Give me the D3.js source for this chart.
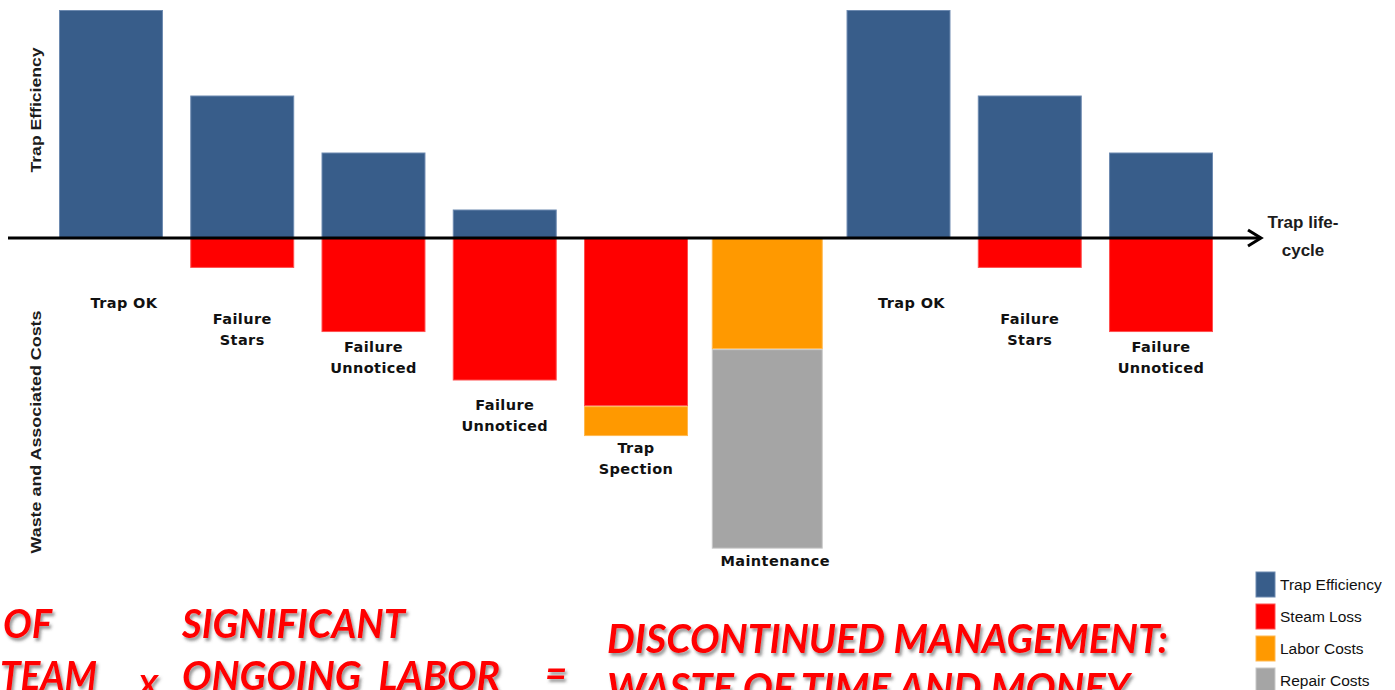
<!DOCTYPE html>
<html>
<head>
<meta charset="utf-8">
<script src="https://cdn.jsdelivr.net/npm/d3@7"></script>
<style>
  html, body { margin: 0; padding: 0; background: #fff; overflow: hidden; }
  svg { display: block; }
</style>
</head>
<body>
<svg id="chart"></svg>
<script>
const width = 1395;
const height = 690;

// data
const stages = ["Trap OK", "Failure Stars", "Failure Unnoticed", "Failure Unnoticed", "Trap Spection",
                "Maintenance", "Trap OK", "Failure Stars", "Failure Unnoticed"];
const stageLines = [["Trap OK"], ["Failure", "Stars"], ["Failure", "Unnoticed"], ["Failure", "Unnoticed"],
                    ["Trap", "Spection"], ["Maintenance"], ["Trap OK"], ["Failure", "Stars"], ["Failure", "Unnoticed"]];
const trapEfficiency = [8, 5, 3, 1, 0, 0, 8, 5, 3];
const steamLoss      = [0, 1.05, 3.3, 5, 5.9, 0, 0, 1.05, 3.3];
const laborCosts     = [0, 0, 0, 0, 1.05, 3.9, 0, 0, 0];
const repairCosts    = [0, 0, 0, 0, 0, 7, 0, 0, 0];

const seriesNames = ["Trap Efficiency", "Steam Loss", "Labor Costs", "Repair Costs"];
const seriesColors = ["#385d8a", "#ff0000", "#ff9900", "#a5a5a5"];
const seriesEdges  = ["#6d8ab0", "#ff5050", "#ffb850", "#c8c8c8"];

// label layout (hand placed in the original)
const labelGap = [64, 50, 14, 23, 11, 11, 64, 50, 14];
const labelDx  = [13, 0, 0, 0, 0, 8, 13, 0, 0];

const rows = stages.map((s, i) => ({
    i: i,
    "Trap Efficiency": trapEfficiency[i],
    "Steam Loss": -steamLoss[i],
    "Labor Costs": -laborCosts[i],
    "Repair Costs": -repairCosts[i]
}));

const stacked = d3.stack()
    .keys(seriesNames)
    .offset(d3.stackOffsetDiverging)(rows);

const x = d3.scaleBand()
    .domain(d3.range(stages.length))
    .range([59, 1213])
    .paddingInner(0.208)
    .paddingOuter(0);

const y = d3.scaleLinear()
    .domain([-11, 8])
    .range([238 + 11 * 28.5, 10]);

const svg = d3.select('#chart')
    .attr('width', width)
    .attr('height', height)
    .attr('viewBox', [0, 0, width, height]);

const defs = svg.append('defs');
const shadow = defs.append('filter')
    .attr('id', 'shadow')
    .attr('x', '-10%').attr('y', '-30%')
    .attr('width', '130%').attr('height', '170%');
shadow.append('feDropShadow')
    .attr('dx', 2).attr('dy', 3)
    .attr('stdDeviation', 1.6)
    .attr('flood-color', '#444')
    .attr('flood-opacity', 0.55);

function barX(i) { return i === 5 ? x(i) - 3.5 : x(i); }
function barW(i) { return i === 5 ? x.bandwidth() + 7 : x.bandwidth(); }

// bars
stacked.forEach((layer, k) => {
    svg.append('g')
        .selectAll('rect')
        .data(layer.filter(d => d[1] - d[0] !== 0))
        .enter().append('rect')
        .attr('x', d => barX(d.data.i) + 0.5)
        .attr('y', d => y(d[1]) + 0.5)
        .attr('width', d => barW(d.data.i) - 1)
        .attr('height', d => y(d[0]) - y(d[1]) - 1)
        .style('fill', seriesColors[k])
        .style('stroke', seriesEdges[k])
        .style('stroke-width', 1);
});

// life-cycle axis with arrow
svg.append('line')
    .attr('x1', 8).attr('x2', 1261)
    .attr('y1', y(0)).attr('y2', y(0))
    .style('stroke', '#000')
    .style('stroke-width', 3);
svg.append('path')
    .attr('d', `M1248,${y(0) - 8} L1261,${y(0)} L1248,${y(0) + 8}`)
    .style('fill', 'none')
    .style('stroke', '#000')
    .style('stroke-width', 3)
    .style('stroke-linejoin', 'miter');

const axisLabel = svg.append('text')
    .attr('text-anchor', 'middle')
    .style('font-family', "'Liberation Sans', Arial, sans-serif")
    .style('font-weight', 'bold')
    .style('font-size', '17px')
    .style('fill', '#1c1c1c');
axisLabel.append('tspan').attr('x', 1303).attr('y', 228).text('Trap life-');
axisLabel.append('tspan').attr('x', 1303).attr('y', 256).text('cycle');

// vertical titles
[["Trap Efficiency", 110, 125], ["Waste and Associated Costs", 432, 243]].forEach(t => {
    svg.append('text')
        .attr('transform', `translate(41,${t[1]}) rotate(-90)`)
        .attr('text-anchor', 'middle')
        .attr('textLength', t[2])
        .attr('lengthAdjust', 'spacingAndGlyphs')
        .style('font-family', "'Liberation Sans', Arial, sans-serif")
        .style('font-weight', 'bold')
        .style('font-size', '15px')
        .style('fill', '#1c1c1c')
        .text(t[0]);
});

// stage labels
stageLines.forEach((lines, i) => {
    const bottom = d3.min(stacked, layer => layer[i][0]);
    const top = y(Math.min(bottom, 0)) + labelGap[i];
    const t = svg.append('text')
        .attr('text-anchor', 'middle')
        .style('font-family', "'DejaVu Sans', Verdana, sans-serif")
        .style('font-weight', 'bold')
        .style('font-size', '14.5px')
        .style('letter-spacing', '0.4px')
        .style('fill', '#111');
    lines.forEach((ln, j) => {
        t.append('tspan')
            .attr('x', x(i) + x.bandwidth() / 2 + labelDx[i])
            .attr('y', top + 6 + j * 21)
            .text(ln);
    });
});

// legend
const legend = svg.append('g').attr('transform', 'translate(1256,572)');
seriesNames.forEach((name, k) => {
    const g = legend.append('g').attr('transform', `translate(0,${k * 32})`);
    g.append('rect')
        .attr('width', 19).attr('height', 25)
        .style('fill', seriesColors[k])
        .style('stroke', seriesEdges[k])
        .style('stroke-width', 1);
    g.append('text')
        .attr('x', 24).attr('y', 18)
        .style('font-family', "'Liberation Sans', Arial, sans-serif")
        .style('font-size', '15.5px')
        .style('fill', '#111')
        .text(name);
});

// bottom equation
const slogans = [
    ["OF", 3, 638, 49, 40],
    ["TEAM", 0, 690, 97, 40],
    ["X", 138, 697, 20, 30],
    ["SIGNIFICANT", 182, 638, 223, 40],
    ["ONGOING  LABOR", 182, 690, 318, 40],
    ["=", 545, 687, 22, 40],
    ["DISCONTINUED MANAGEMENT:", 607, 653, 561, 40],
    ["WASTE OF TIME AND MONEY", 607, 702, 523, 40]
];
svg.append('g')
    .attr('filter', 'url(#shadow)')
    .selectAll('text')
    .data(slogans)
    .enter().append('text')
    .attr('x', d => d[1])
    .attr('y', d => d[2])
    .attr('textLength', d => d[3])
    .attr('lengthAdjust', 'spacingAndGlyphs')
    .style('font-family', "Lato, 'Open Sans', sans-serif")
    .style('font-weight', 'bold')
    .style('font-style', 'italic')
    .style('font-size', d => d[4] + 'px')
    .style('white-space', 'pre')
    .style('fill', '#ff0000')
    .text(d => d[0]);
</script>
</body>
</html>
